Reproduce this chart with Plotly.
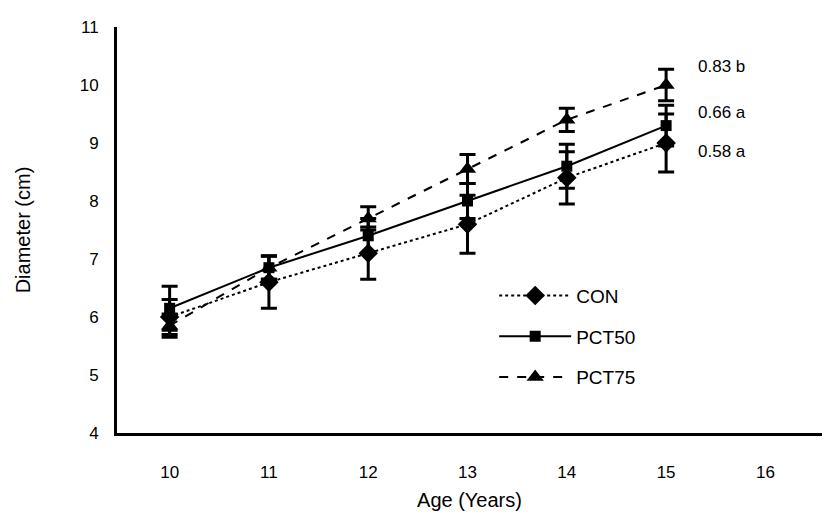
import plotly.graph_objects as go

ages = [10, 11, 12, 13, 14, 15]
con = [6.0, 6.6, 7.1, 7.6, 8.4, 9.0]
con_err = [0.3, 0.45, 0.45, 0.5, 0.45, 0.5]
pct50 = [6.15, 6.85, 7.4, 8.0, 8.6, 9.3]
pct50_err = [0.38, 0.2, 0.3, 0.3, 0.38, 0.35]
pct75 = [5.85, 6.85, 7.7, 8.55, 9.4, 10.0]
pct75_err = [0.2, 0.2, 0.2, 0.25, 0.2, 0.27]
end_labels = ["0.83 b", "0.66 a", "0.58 a"]
end_label_y = [10.32, 9.52, 8.85]

FONT = "Liberation Sans, Arial, sans-serif"

fig = go.Figure()

def add_series(name, y, err, symbol, size, dash):
    fig.add_trace(go.Scatter(
        x=ages, y=y, name=name, legendgroup=name, mode="lines+markers",
        line=dict(color="black", width=2, dash=dash),
        marker=dict(symbol=symbol, size=size, color="black"),
        error_y=dict(type="data", array=err, visible=True, color="black",
                     thickness=3, width=8),
    ))

add_series("CON", con, con_err, "diamond", 15, "dot")
add_series("PCT50", pct50, pct50_err, "square", 11, "solid")
add_series("PCT75", pct75, pct75_err, "triangle-up", 15, "dash")

for txt, yv in zip(end_labels, end_label_y):
    fig.add_annotation(x=15.3, y=yv, text=txt, showarrow=False,
                       xanchor="left", yanchor="middle",
                       font=dict(family=FONT, size=17, color="black"))

fig.update_layout(
    width=824, height=525,
    margin=dict(l=117, r=2, t=27, b=92),
    plot_bgcolor="white", paper_bgcolor="white",
    font=dict(family=FONT, color="black"),
    showlegend=True,
    legend=dict(x=0.535, y=0.385, xanchor="left", yanchor="top",
                font=dict(family=FONT, size=19, color="black"),
                bgcolor="rgba(0,0,0,0)", tracegroupgap=13, itemwidth=72),
    xaxis=dict(range=[9.47, 16.57], tickvals=[10, 11, 12, 13, 14, 15, 16],
               showgrid=False, zeroline=False, showline=True,
               linecolor="black", linewidth=3,
               ticks="outside", ticklen=22, tickcolor="rgba(0,0,0,0)",
               tickfont=dict(family=FONT, size=17, color="black"),
               title=dict(text="Age (Years)", standoff=12,
                          font=dict(family=FONT, size=20, color="black"))),
    yaxis=dict(range=[4, 11], tickvals=[4, 5, 6, 7, 8, 9, 10, 11],
               showgrid=False, zeroline=False, showline=True,
               linecolor="black", linewidth=3,
               ticks="outside", ticklen=12, tickcolor="rgba(0,0,0,0)",
               tickfont=dict(family=FONT, size=17, color="black"),
               title=dict(text="Diameter (cm)", standoff=44,
                          font=dict(family=FONT, size=20, color="black"))),
)

fig.write_html("out.html")
